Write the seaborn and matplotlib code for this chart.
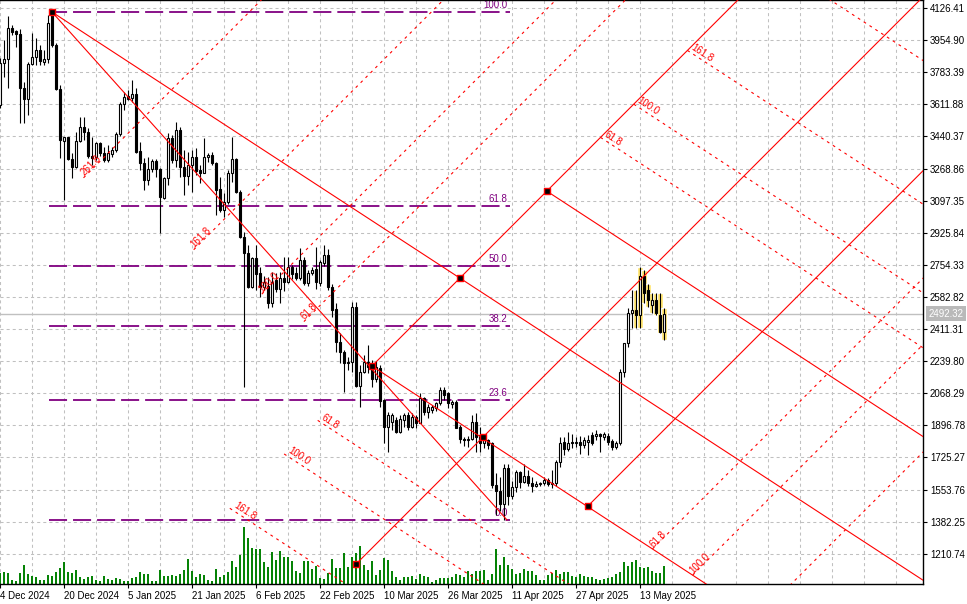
import matplotlib
matplotlib.use("Agg")
import matplotlib.pyplot as plt
import seaborn as sns
import numpy as np
import pandas as pd

sns.set_style("white")
plt.rcParams["font.family"] = ["Liberation Sans", "DejaVu Sans"]
plt.rcParams["lines.scale_dashes"] = False

################## data ##################
first_day = "2024-12-04"

opens = [3608, 3834, 3852, 4018, 4003, 3986, 3697, 3638, 3827, 3863,
         3902, 3838, 3852, 4098, 3929, 3692, 3418, 3439, 3318, 3279,
         3418, 3489, 3466, 3336, 3329, 3403, 3350, 3314, 3346, 3368,
         3452, 3612, 3656, 3644, 3665, 3362, 3296, 3210, 3265, 3309,
         3265, 3109, 3216, 3430, 3314, 3475, 3279, 3229, 3288, 3332,
         3261, 3247, 3328, 3341, 3296, 3158, 3047, 3092, 3243, 3318,
         3145, 2905, 2816, 2638, 2789, 2709, 2638, 2643, 2552, 2673,
         2623, 2682, 2664, 2744, 2709, 2682, 2780, 2655, 2709, 2730,
         2655, 2766, 2807, 2637, 2516, 2344, 2290, 2228, 2237, 2531,
         2107, 2183, 2237, 2213, 2142, 2201, 2032, 1889, 1915, 1925,
         1863, 1925, 1952, 1889, 1943, 1911, 2041, 1970, 1979, 1988,
         2014, 2085, 2067, 2010, 2023, 1889, 1822, 1818, 1822, 1916,
         1845, 1800, 1818, 1800, 1578, 1545, 1475, 1670, 1520, 1565,
         1645, 1595, 1625, 1590, 1575, 1585, 1590, 1605, 1585, 1587,
         1699, 1809, 1768, 1809, 1803, 1809, 1791, 1809, 1845, 1840,
         1849, 1836, 1840, 1814, 1779, 1800, 2183, 2338, 2495, 2513,
         2486, 2694, 2620, 2540, 2566, 2486, 2397]

highs = [3860, 3955, 4084, 4036, 4009, 4012, 3733, 3840, 3991, 3964,
         3929, 3902, 4089, 4105, 3938, 3715, 3439, 3439, 3350, 3466,
         3542, 3546, 3483, 3439, 3412, 3412, 3385, 3394, 3385, 3466,
         3626, 3679, 3688, 3742, 3697, 3412, 3323, 3332, 3320, 3320,
         3270, 3225, 3457, 3448, 3519, 3492, 3368, 3359, 3368, 3377,
         3288, 3430, 3350, 3359, 3305, 3225, 3136, 3261, 3439, 3323,
         3154, 2930, 2860, 2795, 2860, 2744, 2692, 2691, 2718, 2709,
         2718, 2798, 2798, 2753, 2744, 2842, 2798, 2727, 2745, 2850,
         2780, 2860, 2840, 2650, 2548, 2388, 2300, 2260, 2557, 2557,
         2219, 2272, 2326, 2246, 2240, 2219, 2040, 1970, 1961, 1943,
         1952, 1961, 1970, 1961, 1952, 2067, 2050, 2010, 2005, 2023,
         2103, 2103, 2076, 2032, 2032, 1898, 1836, 1840, 1952, 1961,
         1889, 1830, 1825, 1809, 1640, 1620, 1690, 1690, 1600, 1660,
         1650, 1690, 1660, 1620, 1600, 1595, 1620, 1615, 1660, 1710,
         1836, 1836, 1860, 1852, 1836, 1840, 1836, 1845, 1863, 1870,
         1854, 1860, 1854, 1822, 1815, 2200, 2338, 2521, 2620, 2620,
         2744, 2726, 2650, 2602, 2602, 2602, 2521]

lows = [3590, 3759, 3697, 3982, 3920, 3514, 3510, 3555, 3822, 3822,
        3822, 3822, 3831, 3920, 3688, 3323, 3101, 3314, 3216, 3270,
        3412, 3421, 3323, 3288, 3314, 3336, 3305, 3305, 3332, 3359,
        3443, 3581, 3635, 3626, 3354, 3261, 3154, 3181, 3250, 3225,
        2923, 3104, 3181, 3296, 3279, 3225, 3127, 3181, 3145, 3234,
        3190, 3243, 3305, 3288, 3020, 3038, 3011, 3080, 3199, 3136,
        2896, 2103, 2630, 2630, 2620, 2584, 2620, 2522, 2531, 2611,
        2548, 2616, 2655, 2677, 2673, 2673, 2646, 2640, 2700, 2625,
        2640, 2750, 2620, 2477, 2290, 2228, 2076, 2190, 2180, 2103,
        1996, 2174, 2174, 2103, 2130, 1996, 1800, 1756, 1872, 1854,
        1854, 1889, 1872, 1880, 1880, 1907, 1952, 1935, 1965, 1975,
        2005, 2032, 1988, 1988, 1880, 1800, 1787, 1780, 1818, 1756,
        1756, 1775, 1770, 1560, 1420, 1440, 1391, 1470, 1505, 1540,
        1560, 1590, 1575, 1540, 1565, 1570, 1580, 1570, 1560, 1575,
        1676, 1738, 1760, 1778, 1782, 1743, 1774, 1738, 1791, 1820,
        1756, 1820, 1791, 1765, 1770, 1791, 2157, 2317, 2415, 2415,
        2415, 2548, 2530, 2495, 2486, 2388, 2352]

closes = [3831, 3852, 4018, 4000, 3986, 3697, 3638, 3827, 3863, 3902,
          3845, 3852, 4044, 3929, 3692, 3421, 3436, 3318, 3279, 3418,
          3489, 3466, 3336, 3323, 3407, 3350, 3314, 3350, 3368, 3452,
          3612, 3653, 3638, 3665, 3359, 3296, 3207, 3265, 3309, 3265,
          3118, 3216, 3430, 3314, 3475, 3279, 3229, 3288, 3332, 3257,
          3247, 3332, 3341, 3296, 3154, 3047, 3092, 3243, 3318, 3145,
          2905, 2820, 2638, 2789, 2705, 2638, 2664, 2552, 2664, 2623,
          2682, 2664, 2744, 2705, 2682, 2780, 2655, 2709, 2727, 2660,
          2771, 2807, 2637, 2513, 2344, 2290, 2228, 2237, 2531, 2107,
          2183, 2237, 2210, 2142, 2210, 2028, 1889, 1952, 1952, 1863,
          1929, 1952, 1889, 1943, 1911, 2041, 1970, 1996, 1996, 2014,
          2085, 2059, 2014, 2023, 1880, 1822, 1818, 1822, 1916, 1836,
          1800, 1822, 1791, 1578, 1545, 1475, 1670, 1520, 1565, 1645,
          1595, 1625, 1590, 1575, 1585, 1590, 1605, 1585, 1587, 1699,
          1800, 1768, 1804, 1800, 1806, 1791, 1818, 1818, 1800, 1849,
          1840, 1849, 1809, 1779, 1804, 2183, 2338, 2495, 2513, 2486,
          2694, 2602, 2566, 2566, 2495, 2397, 2492.32]

# tick volume (arbitrary units, 5840 = full chart height)
volumes = [107, 123, 113, 40, 33, 113, 190, 100, 80, 67,
           40, 40, 87, 80, 123, 160, 220, 120, 110, 140,
           67, 47, 70, 77, 40, 33, 77, 53, 40, 57,
           47, 30, 30, 60, 67, 120, 100, 100, 30, 30,
           140, 77, 77, 87, 83, 100, 140, 250, 133, 73,
           100, 90, 40, 30, 150, 67, 93, 117, 227, 170,
           290, 570, 457, 360, 353, 350, 217, 167, 320, 240,
           333, 267, 270, 230, 130, 110, 230, 230, 147, 183,
           63, 53, 113, 253, 157, 157, 313, 173, 273, 307,
           383, 190, 140, 230, 90, 140, 257, 240, 133, 73,
           40, 67, 67, 80, 50, 100, 80, 67, 23, 40,
           60, 60, 57, 67, 100, 90, 67, 130, 100, 127,
           133, 140, 40, 100, 347, 190, 273, 190, 150, 103,
           110, 150, 133, 130, 90, 40, 40, 90, 107, 140,
           97, 117, 123, 80, 73, 100, 80, 73, 67, 50,
           40, 50, 60, 67, 100, 123, 223, 183, 217, 240,
           170, 163, 173, 133, 113, 113, 183]
vol_full_scale = 5840

highlight_from = 159  # yellow marked candles

price_ticks = [4126.41, 3954.90, 3783.39, 3611.88, 3440.37, 3268.86,
               3097.35, 2925.84, 2754.33, 2582.82, 2411.31, 2239.80,
               2068.29, 1896.78, 1725.27, 1553.76, 1382.25, 1210.74]
last_price = 2492.32
price_lim = (1048.9, 4169.2)
day_lim = (0, 230.75)

# fibonacci retracement
fib_high = 4105.0
fib_low = 1391.0
fib_span = (12.25, 127.5)
fib_levels = [100.0, 61.8, 50.0, 38.2, 23.6, 0.0]

# channel drawing anchor points (day index, price)
top_pt = (13.0, 4105.0)
low_pt = (126.75, 1391.0)
node_a = (93.0, 2213.6)
node_b = (115.0, 2683.0)
node_c = (136.7, 3148.0)
node_d = (120.75, 1834.0)
node_e = (147.0, 1466.0)
node_f = (89.0, 1155.0)
channel_levels = [61.8, 100.0, 161.8, 261.8]

#################### chart ####################
df = pd.DataFrame({"day": np.arange(len(opens)), "open": opens, "high": highs,
                   "low": lows, "close": closes, "volume": volumes})
df["body_lo"] = df[["open", "close"]].min(axis=1)
df["body_hi"] = df[["open", "close"]].max(axis=1)
df["up"] = df["close"] >= df["open"]

fig = plt.figure(figsize=(9.67, 6.04), dpi=100)
ax = fig.add_axes([0, 20 / 604, 923 / 967, 584 / 604])
ax.set_facecolor("white")

grid_kw = dict(color="#c0c0c0", lw=0.75, ls=(0, (2.2, 2.2)), zorder=0)
for p in price_ticks:
    ax.axhline(p, **grid_kw)
for d in np.arange(0, day_lim[1], 8):
    ax.axvline(d, **grid_kw)

# volumes along the bottom
ax.vlines(df["day"], 0, df["volume"] / vol_full_scale, transform=ax.get_xaxis_transform(),
          color="#008000", lw=1.4, zorder=1)

ax.axhline(last_price, color="#c0c0c0", lw=1.0, zorder=1.5)

# fib retracement
fib_col = "#800080"
for lvl in fib_levels:
    p = fib_low + lvl / 100 * (fib_high - fib_low)
    ax.hlines(p, fib_span[0], fib_span[1], color=fib_col, lw=1.3, ls=(0, (13, 4.3)), zorder=2)
    ax.text(fib_span[1] - 0.6, p + 10, f"{lvl:.1f}", color=fib_col, fontsize=7,
            ha="right", va="bottom", zorder=2)

# highlighted candles
hl = df[df["day"] >= highlight_from]
ax.bar(hl["day"], hl["high"] - hl["low"], bottom=hl["low"], width=1.5,
       color="#ffe46b", zorder=2.5)

# candles
ax.vlines(df["day"], df["low"], df["high"], color="black", lw=0.8, zorder=3)
heights = np.maximum(df["body_hi"] - df["body_lo"], 4)
ax.bar(df["day"], heights, bottom=df["body_lo"], width=0.7,
       color=np.where(df["up"], "white", "black"), edgecolor="black", linewidth=0.8, zorder=4)

# channel geometry
s_fall = (node_b[1] - top_pt[1]) / (node_b[0] - top_pt[0])
s_rise = (node_c[1] - node_a[1]) / (node_c[0] - node_a[0])


def at(anchor, slope, i):
    return anchor[1] + slope * (i - anchor[0])


def meet(a1, s1, a2, s2):
    i = (a2[1] - a1[1] + s1 * a1[0] - s2 * a2[0]) / (s1 - s2)
    return i, at(a1, s1, i)


far = 245
solid = dict(color="red", lw=0.8, zorder=5)
for anchor, slope in [(top_pt, s_fall), (node_a, s_fall), (node_c, s_fall),
                      (node_f, s_rise), (node_a, s_rise), (node_e, s_rise)]:
    ax.plot([anchor[0], far], [anchor[1], at(anchor, slope, far)], **solid)
ax.plot([top_pt[0], low_pt[0]], [top_pt[1], low_pt[1]], **solid)

up_unit = node_c[1] - at(top_pt, s_fall, node_c[0])     # upper rail - middle rail
dn_unit = at(top_pt, s_fall, node_a[0]) - node_a[1]     # middle rail - lower rail
left_unit = node_a[1] - at(node_f, s_rise, node_a[0])   # rising rails
right_unit = at(node_f, s_rise, node_e[0]) - node_e[1]


def screen_angle(slope):
    p0 = ax.transData.transform((100, 2000))
    p1 = ax.transData.transform((101, 2000 + slope))
    return np.degrees(np.arctan2(p1[1] - p0[1], p1[0] - p0[0]))


ax.set_xlim(*day_lim)
ax.set_ylim(*price_lim)
ang_fall = screen_angle(s_fall)
ang_rise = screen_angle(s_rise)

dot = dict(color="red", lw=0.8, ls=(0, (2, 3)), zorder=5)
families = [
    (node_c, s_fall, +up_unit, ang_fall, channel_levels),
    (node_a, s_fall, -dn_unit, ang_fall, channel_levels[:3]),
    (node_a, s_rise, +left_unit, ang_rise, channel_levels),
    (node_e, s_rise, -right_unit, ang_rise, channel_levels[:3]),
]
for base, slope, unit, ang, levels in families:
    cut_slope = s_rise if slope == s_fall else s_fall
    for lvl in levels:
        anchor = (base[0], base[1] + lvl / 100 * unit)
        i0, p0 = meet(anchor, slope, node_a, cut_slope)
        ax.plot([i0, far], [p0, at(anchor, slope, far)], **dot)
        if price_lim[0] < p0 < price_lim[1] and day_lim[0] < i0 < day_lim[1]:
            ax.text(i0 + 0.5, p0, f"{lvl:.1f}", color="red", fontsize=7, rotation=ang,
                    rotation_mode="anchor", ha="left", va="bottom", zorder=6)

# anchor markers
marks = pd.DataFrame([top_pt, node_a, node_b, node_c, node_d, node_e, node_f],
                     columns=["day", "price"])
sns.scatterplot(data=marks, x="day", y="price", marker="s", s=20, color="black",
                edgecolor="red", linewidth=1.0, ax=ax, zorder=7, legend=False)

# axes cosmetics
ax.set_xlim(*day_lim)
ax.set_ylim(*price_lim)
ax.set_xlabel("")
ax.set_ylabel("")
ax.yaxis.tick_right()
ax.set_yticks(price_ticks)
ax.set_yticklabels([f"{p:.2f}" for p in price_ticks])
tick_days = np.arange(0, len(opens), 16)
tick_dates = pd.Timestamp(first_day) + pd.to_timedelta(tick_days, unit="D")
ax.set_xticks(tick_days)
ax.set_xticklabels([f"{d.day} {d:%b %Y}" for d in tick_dates], ha="left")
ax.tick_params(axis="both", direction="out", length=3, width=0.8, color="black",
               labelsize=7, labelcolor="black", pad=2)
ax.tick_params(axis="y", right=True, left=False)
ax.tick_params(axis="x", bottom=True)
ax.spines["left"].set_visible(False)
for side in ["top", "right", "bottom"]:
    ax.spines[side].set_color("black")
    ax.spines[side].set_linewidth(1.0)

ax.annotate(f"{last_price:.2f}", xy=(1.0, last_price), xycoords=("axes fraction", "data"),
            xytext=(4, 0), textcoords="offset points", ha="left", va="center",
            fontsize=7, color="white", annotation_clip=False,
            bbox=dict(boxstyle="square,pad=0.25", fc="#b9b9b9", ec="none"))

fig.savefig("out.png", dpi=100)
